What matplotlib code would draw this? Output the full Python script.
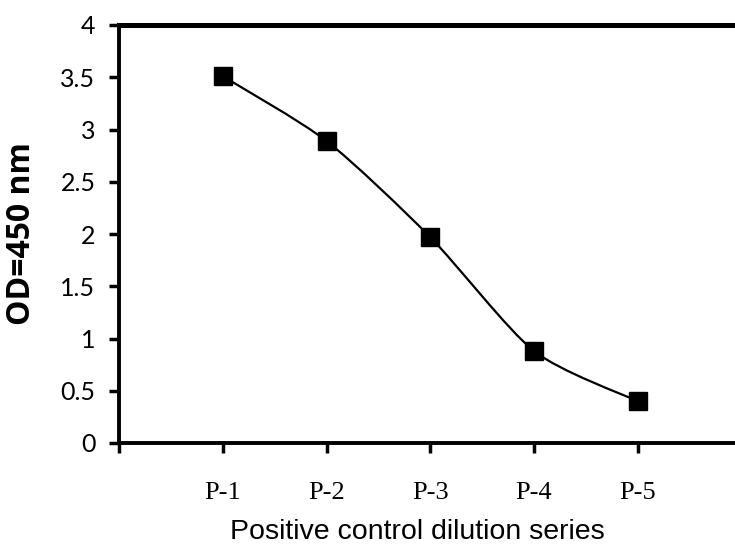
import numpy as np
import matplotlib
matplotlib.use('Agg')
import matplotlib.pyplot as plt
from matplotlib.path import Path
from matplotlib.patches import PathPatch

# dati
labels = ['P-1', 'P-2', 'P-3', 'P-4', 'P-5']
x = [1, 2, 3, 4, 5]
od = [3.51, 2.89, 1.97, 0.88, 0.40]


def smooth_path(xs, ys, k=8.0):
    # curva di Bezier tipo Catmull-Rom (linea "smussata" come Excel)
    p = np.column_stack([xs, ys]).astype(float)
    verts = [p[0]]
    codes = [Path.MOVETO]
    n = len(p)
    for i in range(n - 1):
        p0 = p[i - 1] if i > 0 else p[i]
        p3 = p[i + 2] if i + 2 < n else p[i + 1]
        c1 = p[i] + (p[i + 1] - p0) / k
        c2 = p[i + 1] - (p3 - p[i]) / k
        verts += [c1, c2, p[i + 1]]
        codes += [Path.CURVE4] * 3
    return Path(verts, codes)


fig = plt.figure(figsize=(7.35, 5.46), dpi=100)
ax = fig.add_axes([119 / 735, 103 / 546, 622.5 / 735, 418 / 546])

ax.add_patch(PathPatch(smooth_path(x, od), facecolor='none', edgecolor='black', lw=1.6))
ax.plot(x, od, 's', color='black', markersize=13, linestyle='none', zorder=3)

ax.set_xlim(0, 6)
ax.set_ylim(0, 4)
ax.set_xticks([0] + x)
ax.set_xticklabels([''] + labels, fontfamily='Liberation Serif', fontsize=19)
ax.set_yticks(np.arange(0, 4.01, 0.5))
ax.set_yticklabels(['0', '0.5', '1', '1.5', '2', '2.5', '3', '3.5', '4'],
                   fontfamily='Lato', fontsize=18)

for s in ['left', 'bottom']:
    ax.spines[s].set_linewidth(2.8)
ax.spines['top'].set_linewidth(3.6)
ax.spines['right'].set_visible(False)
ax.tick_params(axis='both', direction='out', length=7, width=2.5, color='black')
ax.tick_params(axis='x', pad=21)
ax.tick_params(axis='y', pad=10)

ax.set_xlabel('Positive control dilution series', fontfamily='Liberation Sans',
              fontsize=20.5)
ax.xaxis.set_label_coords(0.479, -0.182)
ax.set_ylabel('OD=450 nm', fontfamily='Open Sans', fontweight='bold',
              fontsize=23)
ax.yaxis.set_label_coords(-0.13, 0.5)

fig.savefig('out.png', dpi=100)
